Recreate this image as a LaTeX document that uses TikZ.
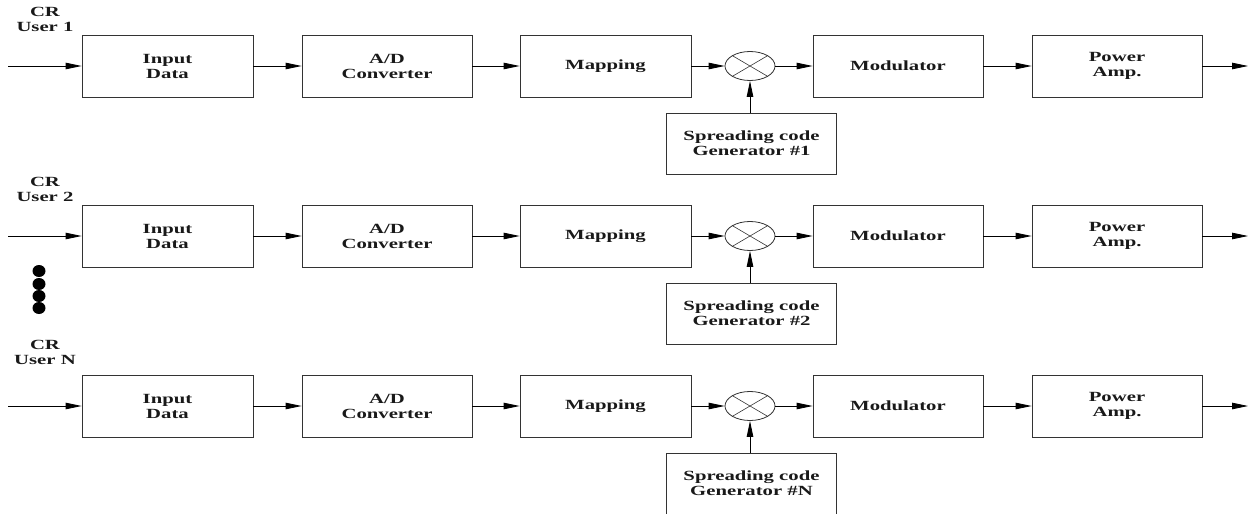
\documentclass[tikz,border=0pt]{standalone}
\usepackage{fontspec}
\newfontfamily\diafont{Liberation Serif}[FakeStretch=1.48]
\usetikzlibrary{arrows.meta,shapes.geometric}
\begin{document}
\begin{tikzpicture}[x=1pt,y=-1pt,
  txt/.style={font=\diafont\bfseries\fontsize{14pt}{15pt}\selectfont,align=center,text=black!90},
  blk/.style={txt,draw=black!80,line width=0.8pt,rectangle,minimum width=170pt,minimum height=62pt,inner sep=0pt},
  spr/.style={blk,minimum width=170pt,minimum height=61pt},
  mul/.style={draw=black!80,line width=0.8pt,ellipse,minimum width=50pt,minimum height=29pt,inner sep=0pt},
  conn/.style={draw=black,line width=0.8pt,-{Triangle[length=16pt,width=6.5pt]}}]
\useasboundingbox (0,0) rectangle (1254,514);
\foreach \r/\u/\ly in {0/1/19.5, 1/2/189.5, 2/N/352} {
  \pgfmathsetmacro{\yy}{66+170*\r}
  \node[txt] (lab\r) at (45,\ly) {CR\\User \u};
  \coordinate (s\r) at (8,\yy);
  \node[blk,minimum width=171pt] (in\r) at (167.5,\yy) {Input\\Data};
  \node[blk] (ad\r) at (387,\yy) {A/D\\Converter};
  \node[blk,minimum width=171pt] (map\r) at (605.5,\yy) {Mapping};
  \node[mul] (m\r) at (750,\yy) {};
  \draw[line width=0.6pt,draw=black!80] (m\r.north east) -- (m\r.south west) (m\r.north west) -- (m\r.south east);
  \node[blk] (mod\r) at (898,\yy) {Modulator};
  \node[blk] (pa\r) at (1117,\yy) {Power\\Amp.};
  \coordinate (e\r) at (1248,\yy);
  \node[spr] (sc\r) at (751.5,\yy+77.5) {Spreading code\\Generator \#\u};
  \draw[conn] (s\r) -- (in\r);
  \draw[conn] (in\r) -- (ad\r);
  \draw[conn] (ad\r) -- (map\r);
  \draw[conn] (map\r) -- (m\r);
  \draw[conn] (m\r) -- (mod\r);
  \draw[conn] (mod\r) -- (pa\r);
  \draw[conn] (pa\r) -- (e\r);
  \draw[conn] (sc\r.north -| m\r.south) -- (m\r.south);
}
\foreach \dy in {271,284,296,308} {
  \fill (39,\dy) ellipse [x radius=6.5pt, y radius=6pt];
}
\end{tikzpicture}
\end{document}
